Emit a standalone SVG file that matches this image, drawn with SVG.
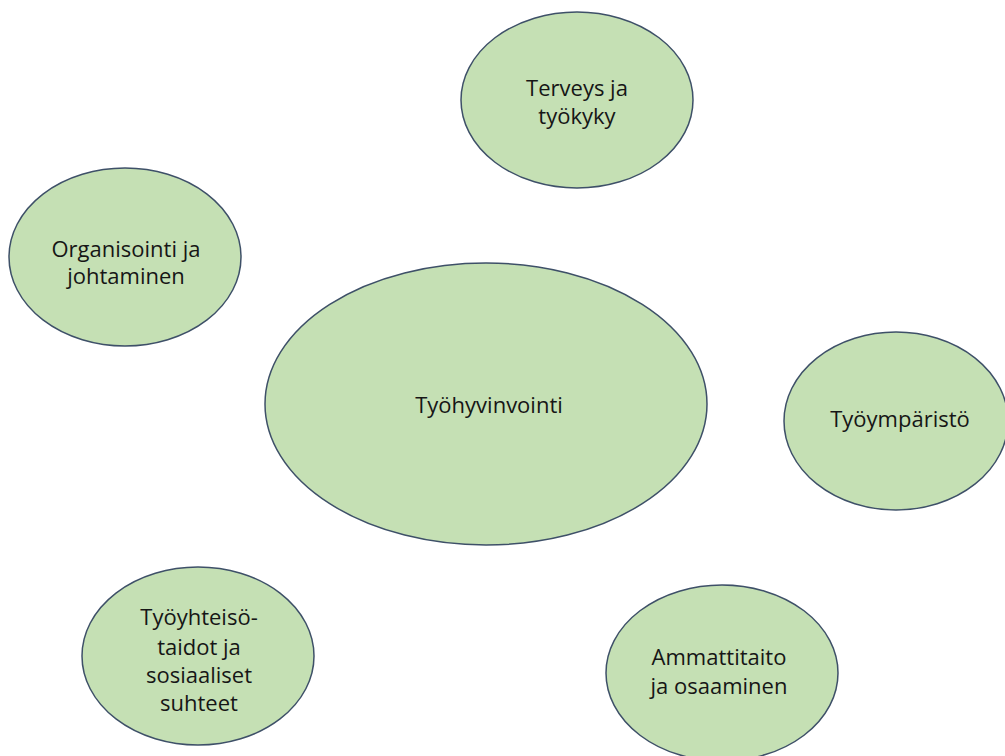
<svg xmlns="http://www.w3.org/2000/svg" width="1005" height="756" viewBox="0 0 1005 756">
<style>
.node ellipse{fill:#c5e0b4;stroke:#3e5068;stroke-width:1.5}
.node text{font-family:"Open Sans","Noto Sans","Liberation Sans",sans-serif;font-size:22px;fill:#161616;text-anchor:middle}
</style>
<rect width="1005" height="756" fill="#ffffff"/>
<g id="connectors"></g>
<g id="node-center" class="node">
<ellipse cx="486" cy="404" rx="221" ry="141"/>
<text x="489" y="413">Työhyvinvointi</text>
</g>
<g id="node-terveys" class="node">
<ellipse cx="577" cy="100" rx="116" ry="88"/>
<text x="577" y="96">Terveys ja</text>
<text x="577" y="124">työkyky</text>
</g>
<g id="node-organisointi" class="node">
<ellipse cx="125" cy="257" rx="116" ry="89"/>
<text x="126" y="257">Organisointi ja</text>
<text x="126" y="284">johtaminen</text>
</g>
<g id="node-tyoymparisto" class="node">
<ellipse cx="896" cy="421" rx="112" ry="89"/>
<text x="900" y="427">Työympäristö</text>
</g>
<g id="node-tyoyhteiso" class="node">
<ellipse cx="198" cy="656" rx="116" ry="89"/>
<text x="199" y="625">Työyhteisö-</text>
<text x="199" y="655">taidot ja</text>
<text x="199" y="683">sosiaaliset</text>
<text x="199" y="711">suhteet</text>
</g>
<g id="node-ammattitaito" class="node">
<ellipse cx="722" cy="673" rx="116" ry="88"/>
<text x="719" y="665">Ammattitaito</text>
<text x="719" y="694">ja osaaminen</text>
</g>
</svg>
